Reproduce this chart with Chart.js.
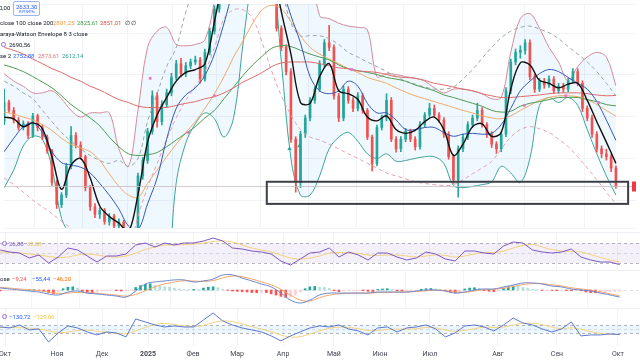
<!DOCTYPE html>
<html>
<head>
<meta charset="utf-8">
<script src="https://cdn.jsdelivr.net/npm/chart.js@4.4.1/dist/chart.umd.min.js"></script>
<style>
  body { margin: 0; background: #fff; width: 640px; height: 360px; overflow: hidden; position: relative; font-family: Roboto, sans-serif; }
  .pane { position: absolute; left: 0; width: 640px; }
  .sep { position: absolute; left: 0; width: 640px; height: 1px; background: #eceef3; }
  .t { position: absolute; font-size: 6px; line-height: 7px; white-space: nowrap; color: #131722; }
  .icon { position: absolute; width: 3px; height: 3px; border: 1px solid #9c6ade; border-radius: 50%; }
  .buy { position: absolute; left: 13px; top: 1px; width: 25px; height: 13px; border: 1px solid #9db6ef; border-radius: 2px; }
</style>
</head>
<body>
<div class="pane" style="top:0;height:232px"><canvas id="main"></canvas></div>
<div class="sep" style="top:232px"></div>
<div class="pane" style="top:233px;height:37px"><canvas id="rsi"></canvas></div>
<div class="sep" style="top:270px"></div>
<div class="pane" style="top:271px;height:37px"><canvas id="macd"></canvas></div>
<div class="sep" style="top:308px"></div>
<div class="pane" style="top:309px;height:51px"><canvas id="cci"></canvas></div>

<div class="t" style="left:-1px;top:4px">0,00</div>
<div class="buy"></div>
<div class="t" style="left:16px;top:3px;color:#2962ff">2633,30</div>
<div class="t" style="left:19px;top:9px;font-size:4px;line-height:5px;color:#2962ff">КУПИТЬ</div>

<div class="t" style="left:0;top:19px">close 100 close 200</div>
<div class="t" style="left:53px;top:19px;color:#ec9a3d">2801,25</div>
<div class="t" style="left:77px;top:19px;color:#43a047">2825,61</div>
<div class="t" style="left:100px;top:19px;color:#e04848">2851,01</div>
<div class="t" style="left:125px;top:19px">∅ ∅</div>
<div class="t" style="left:0;top:30px">araya-Watson Envelope 8 3 close</div>
<div class="icon" style="left:1px;top:42px"></div>
<div class="t" style="left:9px;top:41px">2690,56</div>
<div class="t" style="left:0;top:52px">se 2</div>
<div class="t" style="left:13px;top:52px;color:#2962ff">2752,88</div>
<div class="t" style="left:38px;top:52px;color:#e0787f">2873,61</div>
<div class="t" style="left:62px;top:52px;color:#2fa091">2612,14</div>

<div class="icon" style="left:2px;top:241px"></div>
<div class="t" style="left:9px;top:240px;color:#7e57c2">26,88</div>
<div class="t" style="left:27px;top:240px;color:#f0c44c">32,08</div>
<div class="t" style="left:0;top:275px">ose</div>
<div class="t" style="left:12px;top:275px;color:#ef5350">−9,24</div>
<div class="t" style="left:32px;top:275px;color:#2962ff">−55,44</div>
<div class="t" style="left:53px;top:275px;color:#ff6d00">−46,20</div>
<div class="icon" style="left:2px;top:314px"></div>
<div class="t" style="left:9px;top:313px;color:#2962ff">−130,72</div>
<div class="t" style="left:33px;top:313px;color:#f0c44c">−129,06</div>

<script>
// trading-day index: 0 = 1 Oct 2024
const monthDays = [0, 21.5, 40.1, 59.1, 77.7, 95.9, 114.9, 135.9, 155, 175.6, 203.7, 228.1, 253.3];
const monthLabels = ['Окт', 'Ноя', 'Дек', '2025', 'Фев', 'Мар', 'Апр', 'Май', 'Июн', 'Июл', 'Авг', 'Сен', 'Окт'];

const candleDays = [-2,0,2,4,6,8,10,12,14,16,18,20,22,24,26,28,30,32,34,36,38,40,42,44,46,48,50,52,54,56,58,60,62,64,66,68,70,72,74,76,78,80,82,84,86,88,90,92,94,96,98,100,102,104,106,108,110,112,114,116,118,120,122,124,126,128,130,132,134,136,138,140,142,144,146,148,150,152,154,156,158,160,162,164,166,168,170,172,174,176,178,180,182,184,186,188,190,192,194,196,198,200,202,204,206,208,210,212,214,216,218,220,222,224,226,228,230,232,234,236,238,240,242,244,246,248,250,252,254];
const opens = [2788,2834,2815,2792,2774,2783,2755,2802,2774,2751,
  2718,2642,2589,2612,2681,2755,2732,2704,2630,2584,
  2566,2575,2549,2561,2538,2547,2519,2501,2515,2658,
  2695,2765,2850,2788,2829,2857,2894,2927,2903,2922,
  2931,2936,2890,2954,3005,3058,3128,3174,3209,3244,
  3232,3278,3301,3290,3267,3278,3232,3110,3012,2966,
  2908,2746,2642,2758,2797,2839,2866,2927,2977,2966,
  2850,2797,2866,2839,2820,2850,2815,2751,2688,2774,
  2797,2839,2746,2723,2746,2765,2746,2728,2781,2804,
  2820,2804,2792,2758,2704,2649,2723,2751,2781,2797,
  2815,2781,2758,2734,2723,2758,2862,2931,2954,2959,
  2977,2896,2866,2885,2876,2890,2862,2873,2866,2885,
  2908,2880,2820,2797,2758,2723,2711,2704,2677];
const highs = [2866,2840,2822,2798,2790,2788,2808,2806,2780,2756,
  2722,2648,2618,2688,2776,2762,2740,2708,2635,2592,
  2582,2580,2568,2566,2555,2552,2525,2522,2665,2702,
  2772,2862,2858,2838,2866,2904,2935,2940,2930,2938,
  2945,2942,2962,3012,3066,3135,3182,3218,3252,3255,
  3286,3312,3310,3298,3288,3284,3238,3115,3018,2972,
  2915,2752,2765,2804,2846,2872,2934,2985,3019,2972,
  2856,2874,2872,2846,2858,2856,2820,2756,2780,2804,
  2855,2846,2752,2752,2772,2770,2752,2788,2810,2832,
  2828,2810,2798,2764,2710,2730,2758,2788,2804,2832,
  2822,2786,2764,2740,2764,2870,2938,2962,2970,2985,
  2984,2902,2892,2892,2898,2896,2880,2880,2892,2915,
  2915,2886,2826,2804,2764,2730,2722,2710,2682];
const lows = [2781,2810,2785,2768,2768,2748,2750,2766,2745,2712,
  2635,2580,2582,2606,2675,2725,2698,2622,2575,2558,
  2556,2542,2540,2530,2525,2510,2490,2482,2510,2650,
  2688,2758,2775,2780,2822,2850,2888,2895,2896,2915,
  2925,2880,2885,2948,2998,3050,3120,3165,3200,3222,
  3225,3270,3280,3258,3260,3224,3105,3005,2958,2900,
  2738,2619,2630,2750,2790,2832,2860,2920,2958,2842,
  2788,2790,2832,2812,2814,2808,2745,2670,2682,2768,
  2790,2740,2715,2716,2740,2740,2720,2722,2775,2798,
  2798,2786,2750,2698,2640,2607,2716,2745,2775,2790,
  2775,2750,2726,2712,2716,2752,2855,2924,2940,2950,
  2888,2858,2860,2868,2870,2855,2856,2858,2860,2880,
  2874,2812,2790,2750,2715,2702,2696,2668,2628];
const closes = [2834,2815,2792,2774,2783,2755,2802,2774,2751,2718,
  2642,2589,2612,2681,2755,2732,2704,2630,2584,2566,
  2575,2549,2561,2538,2547,2519,2501,2515,2658,2695,
  2765,2850,2788,2829,2857,2894,2927,2903,2922,2931,
  2936,2890,2954,3005,3058,3128,3174,3209,3244,3232,
  3278,3301,3290,3267,3278,3232,3110,3012,2966,2908,
  2746,2642,2758,2797,2839,2866,2927,2977,2966,2850,
  2797,2866,2839,2820,2850,2815,2751,2688,2774,2797,
  2839,2746,2723,2746,2765,2746,2728,2781,2804,2820,
  2804,2792,2758,2704,2649,2723,2751,2781,2797,2815,
  2781,2758,2734,2723,2758,2862,2931,2954,2959,2977,
  2896,2866,2885,2876,2890,2862,2873,2866,2885,2908,
  2880,2820,2797,2758,2723,2711,2704,2677,2633.3];

// indicator lines, one value every 4 trading days
const lineDays = [-2,2,6,10,14,18,22,26,30,34,38,42,46,50,54,58,62,66,70,74,78,82,86,90,94,98,102,106,110,114,118,122,126,130,134,138,142,146,150,154,158,162,166,170,174,178,182,186,190,194,198,202,206,210,214,218,222,226,230,234,238,242,246,250,254];
const emaFast = [2799,2795,2776,2785,2771,2704,2626,2684,2700,2653,2586,2561,2545,2524,2614,2739,2804,2846,2885,2906,2913,2927,3028,3139,3209,3244,3255,3244,3163,3051,2950,2834,2832,2896,2927,2862,2855,2841,2799,2790,2802,2769,2760,2767,2788,2799,2769,2707,2734,2776,2783,2753,2762,2866,2929,2924,2887,2880,2869,2878,2880,2839,2788,2739,2688];
const bbBasis = [2716,2748,2776,2785,2762,2716,2690,2684,2679,2665,2640,2612,2579,2538,2529,2591,2653,2746,2820,2852,2869,2899,2950,3024,3105,3163,3209,3232,3197,3116,3042,2977,2896,2862,2855,2862,2885,2873,2832,2809,2809,2792,2769,2769,2774,2774,2762,2753,2758,2760,2758,2760,2781,2820,2862,2885,2903,2913,2908,2894,2880,2866,2836,2792,2743];
const bbUpper = [2903,2885,2873,2857,2857,2862,2843,2815,2799,2809,2809,2809,2723,2681,2815,2966,3005,3014,2973,2970,2973,2984,3082,3296,3412,3348,3278,3255,3232,3301,3385,3343,3181,3042,3035,3024,3017,3014,3008,2896,2903,2901,2896,2892,2885,2869,2857,2866,2866,2862,2855,2843,2846,2954,3035,3047,3012,2966,2931,2885,2920,2943,2954,2943,2874];
const bbLower = [2630,2672,2730,2753,2746,2677,2556,2515,2492,2468,2457,2450,2445,2434,2411,2376,2376,2399,2642,2737,2783,2809,2795,2751,2797,2977,3139,3209,3163,2931,2700,2612,2612,2658,2723,2751,2762,2741,2711,2700,2711,2693,2695,2700,2704,2704,2688,2635,2630,2633,2637,2644,2681,2665,2642,2700,2827,2846,2834,2846,2827,2769,2711,2658,2612];
const sma50 = [2811,2806,2799,2792,2781,2767,2748,2734,2725,2716,2695,2663,2633,2612,2607,2640,2672,2704,2734,2762,2788,2820,2855,2896,2943,2982,3024,3056,3067,3058,3028,2994,2966,2950,2938,2927,2915,2906,2894,2887,2880,2869,2859,2850,2843,2836,2829,2822,2815,2809,2802,2797,2795,2802,2815,2827,2839,2846,2850,2850,2848,2841,2829,2815,2801];
const sma100 = [2924,2917,2908,2896,2883,2869,2850,2829,2813,2797,2778,2751,2728,2711,2707,2709,2714,2728,2744,2760,2776,2797,2815,2843,2871,2899,2924,2945,2964,2970,2968,2959,2950,2943,2936,2924,2915,2910,2906,2901,2894,2890,2885,2876,2869,2862,2852,2846,2839,2832,2825,2815,2811,2813,2825,2832,2836,2841,2846,2846,2846,2841,2836,2829,2826];
const sma200 = [2966,2959,2950,2938,2927,2915,2906,2894,2885,2873,2864,2852,2841,2834,2825,2822,2822,2822,2827,2832,2836,2843,2848,2857,2869,2883,2894,2906,2920,2929,2931,2931,2931,2927,2922,2917,2915,2910,2908,2906,2901,2896,2894,2892,2887,2880,2876,2871,2866,2862,2855,2850,2846,2846,2848,2850,2852,2855,2857,2857,2857,2855,2852,2850,2851];
const envUpper = [2885,2873,2857,2843,2815,2788,2762,2741,2723,2707,2695,2688,2695,2681,2700,2788,2855,2920,2966,3051,3116,3186,3255,3301,3325,3348,3348,3325,3232,3116,3024,2994,2994,2994,2987,2973,2954,2943,2931,2920,2908,2896,2885,2878,2871,2866,2866,2871,2890,2913,2940,2966,2989,3005,3014,3017,3010,3001,2987,2968,2950,2931,2908,2880,2850];
const envLower = [2653,2637,2619,2600,2584,2568,2549,2533,2515,2492,2473,2464,2464,2480,2561,2630,2688,2746,2797,2839,2873,2908,2966,3035,3056,3056,3035,2977,2908,2850,2804,2769,2751,2744,2734,2723,2711,2700,2688,2677,2665,2658,2651,2644,2640,2637,2635,2637,2649,2663,2677,2693,2723,2751,2769,2776,2771,2762,2746,2728,2704,2677,2649,2619,2591];

// crossing marks and arrows
const crossDays = [59.1, 75.2, 86, 143.4, 215.7, 233, 246.7];
const crossPrices = [2892, 2762, 2850, 2913, 2827, 2850, 2834];
const arrowDays = [117.4, 121.5];
const arrowPrices = [2723, 2730];

// marked zone
const boxDays = [107.9, 259.1];
const boxPrices = [2591, 2644];

const rsi = [56,52,50,40,46,30,42,60,56,44,32,44,44,48,66,70,62,70,66,70,70,74,80,74,60,58,54,52,48,34,26,38,50,52,60,42,52,46,36,50,50,42,36,40,52,48,38,34,54,54,50,48,64,72,70,56,52,50,52,58,42,36,32,32,26.88];
const rsiMa = [52,51,50,48,46,43,41,42,46,48,46,43,42,44,50,57,62,66,66,67,68,70,73,74,72,66,60,56,52,46,40,38,40,44,50,51,50,49,46,45,46,46,44,42,44,46,45,42,44,48,51,51,54,60,65,67,62,57,54,53,52,47,41,36,32.08];
const rsiBand = [30, 70];

const macdLine = [16,8,0,-8,-16,-31,-39,-16,-8,-24,-31,-39,-47,-55,-8,47,63,71,79,79,63,71,86,118,118,94,71,47,24,-24,-79,-102,-79,-39,-24,-24,-24,-24,-24,-16,-16,-16,-16,-8,0,0,-8,-24,-16,0,8,8,24,39,55,55,47,31,24,8,0,-8,-24,-39,-55.44];
const macdSignal = [20,15,8,2,-6,-16,-26,-24,-18,-20,-26,-33,-40,-48,-35,-5,25,48,62,72,70,68,74,95,110,104,86,64,40,5,-40,-78,-86,-60,-40,-30,-26,-24,-24,-20,-18,-16,-16,-12,-6,-2,-4,-14,-18,-8,2,6,14,28,42,50,50,40,32,18,8,-2,-14,-30,-46.2];
const macdHist = [-8,-6,-5,-4,-2,-1,2,3,-3,-8,
  -20,-28,-15,10,22,25,15,-10,-22,-25,
  -15,-8,-4,-3,-5,-8,-6,-2,20,35,
  45,48,38,30,25,22,15,8,4,3,
  5,2,15,22,25,18,6,-3,-8,-10,
  -12,-15,-20,-22,-18,-20,-30,-40,-50,-58,
  -55,-40,-15,10,25,28,22,20,12,-6,
  -12,-8,-4,-3,-2,-6,-10,-12,4,8,
  10,5,-6,-8,-6,-5,-4,6,10,12,
  8,3,-8,-18,-22,-15,8,15,18,14,
  -5,-10,-12,-8,15,25,30,28,20,12,
  6,2,-3,-2,-3,-5,-4,-5,-6,-4,
  -6,-15,-20,-22,-18,-14,-12,-10,-9.24];

const cci = [53,29,100,-19,5,-307,-91,77,29,-67,-139,-67,-91,-187,245,173,101,53,77,53,53,221,389,197,101,29,-19,-67,-163,-283,-163,-67,29,77,53,101,5,-43,-139,29,53,-67,29,53,101,5,-187,-91,77,101,53,-43,101,269,149,101,5,-67,5,173,-163,-139,-139,-115,-130.72];
const cciMa = [40,40,35,25,5,-40,-80,-70,-30,-20,-50,-80,-100,-110,-40,40,110,140,110,80,65,90,160,200,180,130,60,0,-60,-140,-190,-180,-120,-40,20,50,40,10,-30,-30,-10,0,0,10,40,30,-20,-50,-30,10,50,40,50,100,140,140,110,50,10,30,0,-60,-100,-125,-129.06];
const cciBand = [-100, 100];

const xMin = -2.07, xMax = 262.4;
const upColor = '#26a69a', downColor = '#ef5350';

Chart.defaults.font.family = 'Roboto';
Chart.defaults.animation = false;
Chart.defaults.events = [];

function pts(values) {
  return values.map(function(v, i) { return { x: lineDays[i], y: v }; });
}

function line(values, color, width, dash, order, tension) {
  return {
    type: 'line', data: pts(values), borderColor: color, borderWidth: width,
    borderDash: dash || [], pointRadius: 0, fill: false, order: order,
    tension: tension === undefined ? 0.35 : tension
  };
}

function xAxis(showLabels) {
  return {
    type: 'linear', min: xMin, max: xMax, offset: false,
    afterBuildTicks: function(axis) {
      axis.ticks = monthDays.map(function(d) { return { value: d }; });
    },
    afterFit: function(axis) {
      axis.paddingLeft = 0;
      axis.paddingRight = 0;
      if (showLabels) axis.height = 14;
    },
    grid: { color: '#f1f3f7', drawTicks: false },
    border: { display: false },
    ticks: {
      display: showLabels, autoSkip: false, maxRotation: 0, padding: 4, color: '#434651',
      font: function(c) { return { size: 7, weight: c.index === 3 ? 'bold' : 'normal' }; },
      callback: function(v, i) { return monthLabels[i]; }
    }
  };
}

function hiddenY(min, max) {
  return { min: min, max: max, display: false };
}

function guides(band, bandColor, levels, levelColor, faint) {
  return {
    id: 'guides',
    beforeDatasetsDraw: function(chart) {
      const ctx = chart.ctx, y = chart.scales.y, a = chart.chartArea;
      ctx.save();
      if (band) {
        const top = y.getPixelForValue(band[1]), bottom = y.getPixelForValue(band[0]);
        ctx.fillStyle = bandColor;
        ctx.fillRect(a.left, top, a.right - a.left, bottom - top);
      }
      ctx.lineWidth = 1;
      ctx.setLineDash([3, 3]);
      levels.forEach(function(v) {
        const p = Math.round(y.getPixelForValue(v)) + 0.5;
        ctx.strokeStyle = levelColor;
        ctx.beginPath(); ctx.moveTo(a.left, p); ctx.lineTo(a.right, p); ctx.stroke();
      });
      (faint || []).forEach(function(v) {
        const p = Math.round(y.getPixelForValue(v)) + 0.5;
        ctx.strokeStyle = 'rgba(149,152,161,0.3)';
        ctx.beginPath(); ctx.moveTo(a.left, p); ctx.lineTo(a.right, p); ctx.stroke();
      });
      ctx.restore();
    }
  };
}

const mainOverlay = {
  id: 'mainOverlay',
  afterDatasetsDraw: function(chart) {
    const ctx = chart.ctx, x = chart.scales.x, y = chart.scales.y, a = chart.chartArea;
    const last = closes[closes.length - 1];
    const py = Math.round(y.getPixelForValue(last)) + 0.5;
    ctx.save();
    ctx.strokeStyle = 'rgba(200,190,195,0.8)';
    ctx.lineWidth = 1;
    ctx.beginPath(); ctx.moveTo(a.left, py); ctx.lineTo(a.right, py); ctx.stroke();
    const x1 = x.getPixelForValue(boxDays[0]), x2 = x.getPixelForValue(boxDays[1]);
    const y1 = y.getPixelForValue(boxPrices[1]), y2 = y.getPixelForValue(boxPrices[0]);
    ctx.strokeStyle = '#3c3f47';
    ctx.lineWidth = 2;
    ctx.strokeRect(x1, y1, x2 - x1, y2 - y1);
    ctx.fillStyle = '#f23645';
    ctx.fillRect(a.right - 4, py - 5, 4, 10);
    ctx.restore();
  }
};

// main price pane
new Chart(document.getElementById('main'), {
  type: 'bar',
  data: {
    datasets: [
      Object.assign(line(bbUpper, '#d48a98', 1, null, 9), { fill: '+1', backgroundColor: 'rgba(33,150,243,0.07)' }),
      line(bbLower, '#3fa596', 1, null, 9),
      {
        type: 'bar', grouped: false, order: 8, barThickness: 1,
        data: candleDays.map(function(d, i) { return { x: d, y: [lows[i], highs[i]] }; }),
        backgroundColor: function(c) { return closes[c.dataIndex] >= opens[c.dataIndex] ? upColor : downColor; }
      },
      {
        type: 'bar', grouped: false, order: 7, barThickness: 2, minBarLength: 1,
        data: candleDays.map(function(d, i) { return { x: d, y: [opens[i], closes[i]] }; }),
        backgroundColor: function(c) { return closes[c.dataIndex] >= opens[c.dataIndex] ? upColor : downColor; }
      },
      line(sma200, '#de6b6b', 1, null, 5),
      line(sma100, '#4f9a52', 1, null, 5),
      line(sma50, '#f0aa6a', 1, null, 5),
      line(envUpper, '#9aa7a3', 1, [4, 3], 5),
      line(envLower, '#e3a3ae', 1, [4, 3], 5),
      line(bbBasis, '#3458b8', 1, null, 4),
      line(emaFast, '#111111', 1.4, null, 3),
      {
        type: 'line', order: 1, showLine: false, pointStyle: 'rect', pointRadius: 2,
        pointBackgroundColor: '#e67ac8', pointBorderWidth: 0,
        data: crossDays.map(function(d, i) { return { x: d, y: crossPrices[i] }; })
      },
      {
        type: 'line', order: 1, showLine: false, pointStyle: 'triangle', pointRadius: 2.5,
        pointBackgroundColor: '#26a69a', pointBorderWidth: 0,
        data: arrowDays.map(function(d, i) { return { x: d, y: arrowPrices[i] }; })
      }
    ]
  },
  options: {
    responsive: true,
    maintainAspectRatio: false,
    layout: { padding: 0 },
    plugins: { legend: { display: false }, tooltip: { enabled: false } },
    scales: {
      x: xAxis(false),
      y: {
        min: 2533.2, max: 3070,
        ticks: { display: false, stepSize: 100 },
        grid: { color: '#f1f3f7', drawTicks: false },
        border: { display: false }
      }
    }
  },
  plugins: [mainOverlay]
});

// RSI pane
new Chart(document.getElementById('rsi'), {
  type: 'line',
  data: {
    datasets: [
      line(rsiMa, '#f3cf7a', 1, null, 2, 0.4),
      line(rsi, '#7e57c2', 1, null, 1, 0)
    ]
  },
  options: {
    responsive: true, maintainAspectRatio: false, layout: { padding: 0 },
    plugins: { legend: { display: false }, tooltip: { enabled: false } },
    scales: { x: xAxis(false), y: hiddenY(16, 90) }
  },
  plugins: [guides(rsiBand, 'rgba(126,87,194,0.09)', rsiBand, 'rgba(120,123,134,0.55)', [50])]
});

// MACD pane
new Chart(document.getElementById('macd'), {
  type: 'bar',
  data: {
    datasets: [
      {
        type: 'bar', order: 3, barThickness: 2,
        data: candleDays.map(function(d, i) { return { x: d, y: macdHist[i] }; }),
        backgroundColor: function(c) {
          const v = macdHist[c.dataIndex];
          const p = c.dataIndex > 0 ? macdHist[c.dataIndex - 1] : v;
          if (v >= 0) return v >= p ? '#26a69a' : '#b2dfdb';
          return v <= p ? '#ff5252' : '#ffcdd2';
        }
      },
      line(macdSignal, '#f5a46a', 1, null, 2, 0.4),
      line(macdLine, '#6f86c9', 1, null, 1, 0.4)
    ]
  },
  options: {
    responsive: true, maintainAspectRatio: false, layout: { padding: 0 },
    plugins: { legend: { display: false }, tooltip: { enabled: false } },
    scales: { x: xAxis(false), y: hiddenY(-141, 149) }
  },
  plugins: [guides(null, null, [], '', [0])]
});

// CCI pane with the date axis
new Chart(document.getElementById('cci'), {
  type: 'line',
  data: {
    datasets: [
      line(cciMa, '#f3d27e', 1, null, 2, 0.4),
      line(cci, '#5b78cf', 1, null, 1, 0)
    ]
  },
  options: {
    responsive: true, maintainAspectRatio: false, layout: { padding: 0 },
    plugins: { legend: { display: false }, tooltip: { enabled: false } },
    scales: { x: xAxis(true), y: hiddenY(-406, 486) }
  },
  plugins: [guides(cciBand, 'rgba(33,150,243,0.09)', cciBand, 'rgba(120,123,134,0.55)', [0])]
});
</script>
</body>
</html>
